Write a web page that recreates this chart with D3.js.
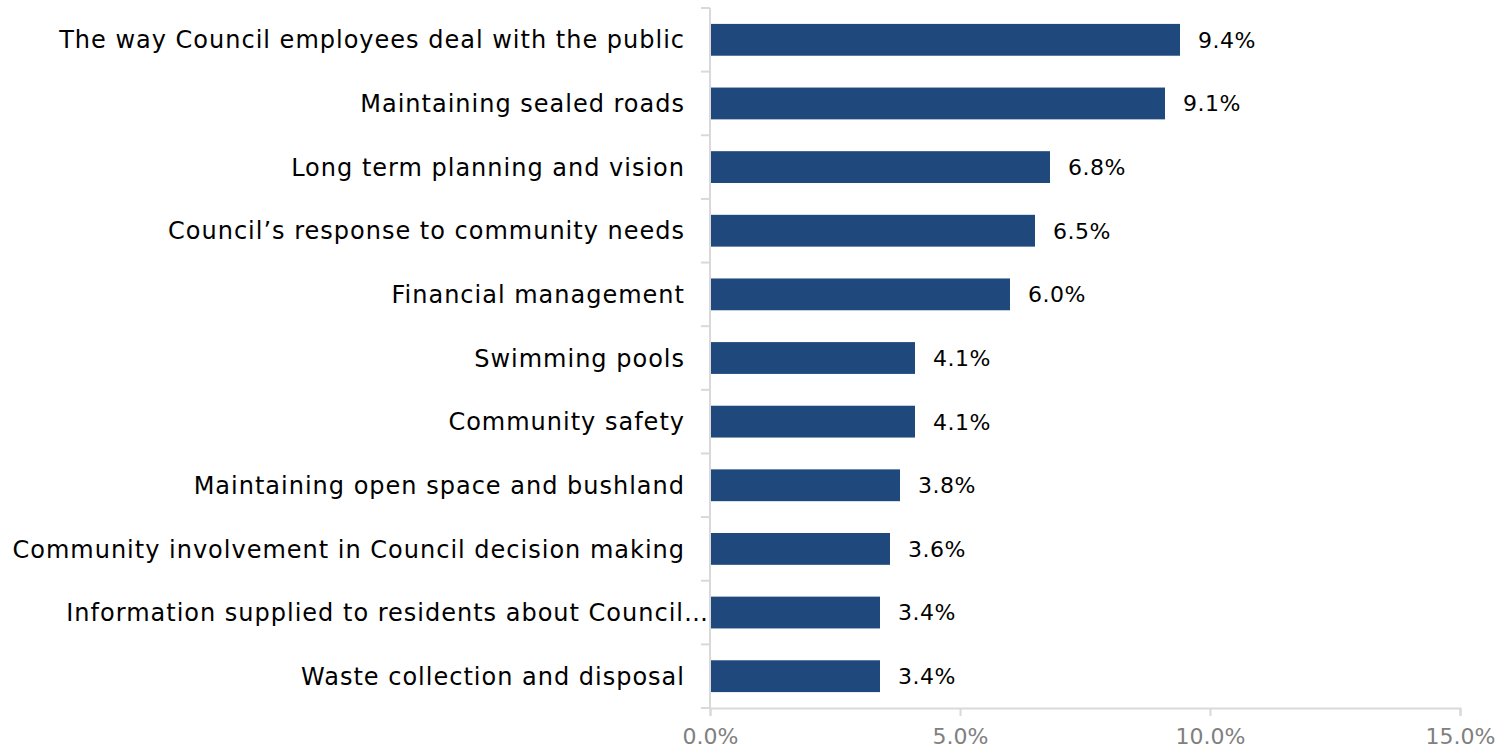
<!DOCTYPE html>
<html>
<head>
<meta charset="utf-8">
<script src="https://cdn.jsdelivr.net/npm/d3@7"></script>
<style>
  html, body { margin: 0; padding: 0; background: #ffffff; }
  svg { display: block; }
</style>
</head>
<body>
<svg id="chart" width="1503" height="750"></svg>
<script>
// Service areas, ordered top to bottom
const categories = [
  "The way Council employees deal with the public",
  "Maintaining sealed roads",
  "Long term planning and vision",
  "Council\u2019s response to community needs",
  "Financial management",
  "Swimming pools",
  "Community safety",
  "Maintaining open space and bushland",
  "Community involvement in Council decision making",
  "Information supplied to residents about Council\u2026",
  "Waste collection and disposal"
];
// Share of responses (%)
const values = [9.4, 9.1, 6.8, 6.5, 6.0, 4.1, 4.1, 3.8, 3.6, 3.4, 3.4];
// Horizontal axis ticks (%)
const xTicks = [0, 5, 10, 15];

const svg = d3.select("#chart");
const margin = { top: 8, right: 43, bottom: 42, left: 710 };
const width = 1503 - margin.left - margin.right;
const height = 750 - margin.top - margin.bottom;

const g = svg.append("g").attr("transform", `translate(${margin.left},${margin.top})`);

const x = d3.scaleLinear().domain([0, 15]).range([0, width]);
const y = d3.scaleBand().domain(categories).range([0, height]).paddingInner(0.5).paddingOuter(0.25);

const fontFamily = "'DejaVu Sans', sans-serif";
const axisColor = "#d9d9d9";

// Bars
g.selectAll("rect.bar")
  .data(values)
  .join("rect")
  .attr("class", "bar")
  .attr("x", 0)
  .attr("y", (d, i) => y(categories[i]))
  .attr("width", d => x(d))
  .attr("height", y.bandwidth())
  .attr("fill", "#1f497d");

// Value labels
g.selectAll("text.val")
  .data(values)
  .join("text")
  .attr("class", "val")
  .attr("x", d => x(d) + 18)
  .attr("y", (d, i) => y(categories[i]) + y.bandwidth() / 2)
  .attr("dy", "0.36em")
  .attr("font-family", fontFamily)
  .attr("font-size", 22)
  .attr("letter-spacing", 0.5)
  .attr("fill", "#000")
  .text(d => d.toFixed(1) + "%");

// Bottom axis
const xAxis = d3.axisBottom(x).tickValues(xTicks).tickSize(8).tickPadding(12)
  .tickFormat(d => d.toFixed(1) + "%");
const gx = g.append("g").attr("transform", `translate(0,${height})`).call(xAxis);
gx.select(".domain").attr("stroke", axisColor).attr("stroke-width", 2);
gx.selectAll(".tick line").attr("stroke", axisColor).attr("stroke-width", 2);
gx.selectAll(".tick text")
  .attr("font-family", fontFamily)
  .attr("font-size", 22)
  .attr("fill", "#808080");

// Left axis: category separators and labels
const yEdges = d3.range(categories.length + 1).map(i => i * height / categories.length);
const gy = g.append("g");
gy.append("line")
  .attr("x1", 0).attr("x2", 0)
  .attr("y1", 0).attr("y2", height)
  .attr("stroke", axisColor).attr("stroke-width", 2);
gy.selectAll("line.sep")
  .data(yEdges)
  .join("line")
  .attr("class", "sep")
  .attr("x1", -9).attr("x2", 0)
  .attr("y1", d => d).attr("y2", d => d)
  .attr("stroke", axisColor).attr("stroke-width", 2);

gy.selectAll("text.cat")
  .data(categories)
  .join("text")
  .attr("class", "cat")
  .attr("x", d => d.endsWith("\u2026") ? -1 : -25)
  .attr("y", d => y(d) + y.bandwidth() / 2)
  .attr("dy", "0.36em")
  .attr("text-anchor", "end")
  .attr("font-family", fontFamily)
  .attr("font-size", 24)
  .attr("letter-spacing", 1)
  .attr("fill", "#000")
  .text(d => d);
</script>
</body>
</html>
